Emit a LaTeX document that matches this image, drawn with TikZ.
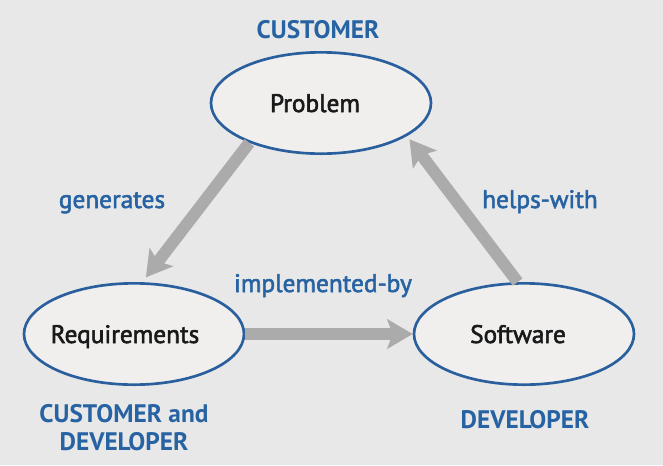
\documentclass[tikz,border=0pt]{standalone}
\usepackage{fontspec}
\setmainfont{PT Sans}
\newfontfamily\medfont{PT Sans}[FakeBold=2.2]
\usetikzlibrary{arrows.meta,shapes.geometric}
\definecolor{bgcol}{HTML}{E8E8E8}
\definecolor{fillcol}{HTML}{F0EFEE}
\definecolor{bluecol}{HTML}{2A5F9E}
\definecolor{txtblue}{HTML}{2763A3}
\definecolor{arrcol}{HTML}{ABABAB}
\tikzset{
  oval/.style={ellipse, draw=bluecol, line width=2pt, fill=fillcol, minimum width=165pt, minimum height=76pt, inner sep=0pt},
  ovaltext/.style={font=\medfont\fontsize{19}{22}\selectfont, text=black!90, anchor=base},
  role/.style={font=\bfseries\fontsize{19}{21}\selectfont, text=txtblue, anchor=base, align=center},
  rel/.style={font=\medfont\fontsize{19}{22}\selectfont, text=txtblue, anchor=base},
  bigarrow/.style={draw=arrcol, line width=9pt, -{Stealth[length=19pt,width=22pt,inset=4pt]}}
}
\begin{document}
\begin{tikzpicture}[x=0.75pt,y=-0.75pt]
\fill[bgcol] (0,0) rectangle (663,465);
\useasboundingbox (0,0) rectangle (663,465);
\node[oval] (problem) at (321,103) {};
\node[oval] (req) at (134,334) {};
\node[oval] (soft) at (524,334) {};
\node[ovaltext] (tproblem) at (315,112) {Problem};
\node[ovaltext] (treq) at (125,343) {Requirements};
\node[ovaltext] (tsoft) at (518,343) {Software};
\node[role] (rcust) at (318,38) {CUSTOMER};
\node[role] (rcd1) at (124,422) {CUSTOMER and};
\node[role] (rcd2) at (124,450) {DEVELOPER};
\node[role] (rdev) at (525,428) {DEVELOPER};
\node[rel] (lgen) at (112,208) {generates};
\node[rel] (lhelp) at (540,208) {helps-with};
\node[rel] (limpl) at (323,292) {implemented-by};
\draw[bigarrow, shorten >=4.5pt] (problem.209) -- (req.81);
\draw[bigarrow, shorten >=3pt] (soft.97) -- (problem.-21);
\draw[bigarrow] (req.east) -- (soft.west);
\end{tikzpicture}
\end{document}
